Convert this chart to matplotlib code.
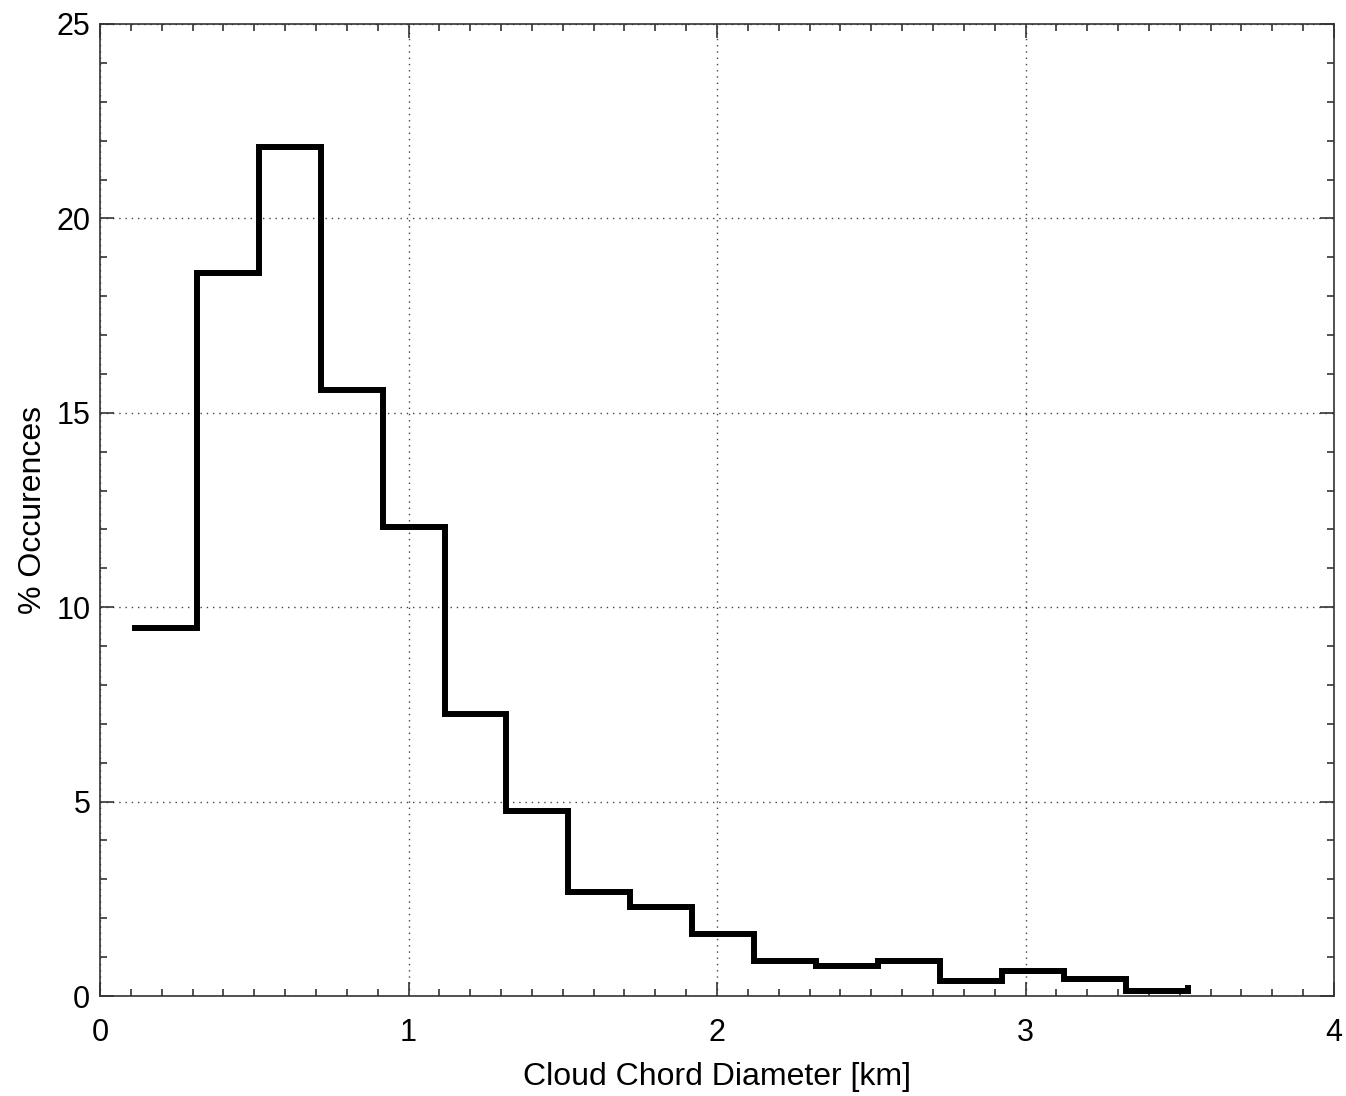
import numpy as np
import matplotlib
matplotlib.use('Agg')
import matplotlib.pyplot as plt
from matplotlib.ticker import MultipleLocator

# histogram of cloud chord diameters (bin edges in km, % per bin)
bin_edges = [0.112, 0.313, 0.514, 0.715, 0.916, 1.117, 1.317, 1.518, 1.719,
             1.920, 2.121, 2.322, 2.523, 2.724, 2.925, 3.126, 3.327, 3.528]
occurences = [9.47, 18.6, 21.84, 15.58, 12.06, 7.25, 4.76, 2.68, 2.3, 1.59,
              0.9, 0.77, 0.9, 0.39, 0.65, 0.45, 0.13, 0.2]

plt.rcParams['font.family'] = ['Liberation Sans', 'DejaVu Sans']

fig = plt.figure(figsize=(13.46, 10.96), dpi=100)
ax = fig.add_axes([100 / 1346, 1 - 996 / 1096, 1234 / 1346, 972 / 1096])

ax.step(bin_edges, occurences, where='post', color='black', lw=4.3,
        solid_joinstyle='miter')

ax.set_xlim(0, 4)
ax.set_ylim(0, 25)
ax.xaxis.set_major_locator(MultipleLocator(1))
ax.xaxis.set_minor_locator(MultipleLocator(0.1))
ax.yaxis.set_major_locator(MultipleLocator(5))
ax.yaxis.set_minor_locator(MultipleLocator(1))

ax.grid(True, which='major', color='#444444', lw=1.0, linestyle=(0, (1, 3.5)))
ax.set_axisbelow(True)

ax.tick_params(which='both', direction='in', top=True, right=True,
               color='#333333', width=1.2, labelsize=22)
ax.tick_params(which='major', length=10)
ax.tick_params(which='minor', length=5)
ax.tick_params(axis='x', pad=16)
ax.tick_params(axis='y', pad=7)
for s in ax.spines.values():
    s.set_color('#333333')
    s.set_linewidth(1.2)

ax.set_xlabel('Cloud Chord Diameter [km]', fontsize=23, labelpad=10)
ax.set_ylabel('% Occurences', fontsize=23, labelpad=6)

fig.savefig('out.png', dpi=100, facecolor='white')
